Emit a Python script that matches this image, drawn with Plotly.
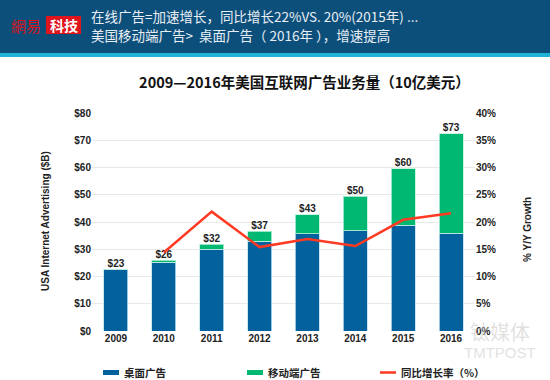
import plotly.graph_objects as go

years = ["2009", "2010", "2011", "2012", "2013", "2014", "2015", "2016"]
desktop = [22.7, 25.3, 30.0, 33.0, 35.7, 36.8, 38.8, 35.9]
mobile = [0.0, 0.6, 1.8, 3.6, 7.0, 12.7, 20.8, 36.5]
total_labels = ["$23", "$26", "$32", "$37", "$43", "$50", "$60", "$73"]
growth_years = ["2010", "2011", "2012", "2013", "2014", "2015", "2016"]
growth = [14.4, 21.9, 15.4, 16.9, 15.6, 20.4, 21.6]

left_ticks = [0, 10, 20, 30, 40, 50, 60, 70, 80]
left_ticktext = ["$0", "$10", "$20", "$30", "$40", "$50", "$60", "$70", "$80"]
right_ticks = [0, 5, 10, 15, 20, 25, 30, 35, 40]
right_ticktext = ["0%", "5%", "10%", "15%", "20%", "25%", "30%", "35%", "40%"]

series_names = ["桌面广告", "移动端广告", "同比增长率（%）"]

W, H = 550, 380
ML, MR, MT, MB = 92, 75, 113, 49
PW, PH = W - ML - MR, H - MT - MB

def px(x):
    return (x - ML) / PW

def py(y):
    return (H - MB - y) / PH

FONT = "Noto Sans CJK SC, Liberation Sans, Arial"
LAT = "Liberation Sans, Arial"
BLUE = "#03619e"
GREEN = "#00b872"
RED = "#ff3a22"

totals = [d + m for d, m in zip(desktop, mobile)]

fig = go.Figure()
fig.add_trace(go.Bar(x=years, y=desktop, name=series_names[0], marker=dict(color=BLUE, line=dict(color="rgba(190,225,240,0.8)", width=1)), width=0.5))
fig.add_trace(go.Bar(x=years, y=mobile, name=series_names[1], marker=dict(color=GREEN, line=dict(color="rgba(190,240,220,0.8)", width=1)), width=0.5))
fig.add_trace(go.Scatter(x=years, y=totals, text=total_labels, mode="text", textposition="top center",
                         textfont=dict(size=10, color="#222", family=LAT, weight="bold"),
                         showlegend=False, hoverinfo="skip", cliponaxis=False))
fig.add_trace(go.Scatter(x=growth_years, y=growth, name=series_names[2], mode="lines", yaxis="y2",
                         line=dict(color=RED, width=2.5)))

tickfont = dict(size=10, family=LAT, weight="bold", color="#222")

LY = 372.5

shapes = [
    dict(type="rect", xref="paper", yref="paper", x0=px(0), x1=px(W), y0=py(53), y1=py(0),
         fillcolor="#0d4f7b", line=dict(width=0), layer="below"),
    dict(type="rect", xref="paper", yref="paper", x0=px(0), x1=px(W), y0=py(57), y1=py(53),
         fillcolor="#1fb5d8", line=dict(width=0), layer="below"),
    dict(type="rect", xref="paper", yref="paper", x0=px(46), x1=px(81), y0=py(34), y1=py(16),
         fillcolor="#e0141c", line=dict(width=0), layer="below"),
    # legend swatches
    dict(type="rect", xref="paper", yref="paper", x0=px(103), x1=px(119), y0=py(LY + 2.5), y1=py(LY - 2.5),
         fillcolor=BLUE, line=dict(width=0)),
    dict(type="rect", xref="paper", yref="paper", x0=px(247), x1=px(263), y0=py(LY + 2.5), y1=py(LY - 2.5),
         fillcolor=GREEN, line=dict(width=0)),
    dict(type="line", xref="paper", yref="paper", x0=px(380), x1=px(396), y0=py(LY), y1=py(LY),
         line=dict(color=RED, width=2.5)),
]

def ann(text, x, y, size, color, family=FONT, weight="normal", xanchor="left", angle=0):
    return dict(text=text, x=px(x), y=py(y), xref="paper", yref="paper", xanchor=xanchor, yanchor="middle",
                showarrow=False, textangle=angle, font=dict(size=size, color=color, family=family, weight=weight))

annotations = [
    ann("網易", 9, 25, 15, "#d8141c", family="Noto Sans CJK TC"),
    ann("科技", 63.5, 25, 14, "white", family="Noto Sans CJK TC", weight="bold", xanchor="center"),
    ann("在线广告=加速增长，同比增长22%VS. 20%(2015年) ...", 89, 16, 13.5, "#e8eef4"),
    ann("美国移动端广告>  桌面广告（ 2016年 ），增速提高", 89, 35, 13.5, "#e8eef4"),
    ann("钛媒体", 500, 331, 20, "rgba(200,200,200,0.55)", xanchor="center"),
    ann("TMTPOST", 500, 352, 15, "rgba(200,200,200,0.55)", family=LAT, xanchor="center"),
    ann("USA Internet Advertising ($B)", 45, 221, 10, "#222", family=LAT, weight="bold", xanchor="center", angle=-90),
    ann("% Y/Y Growth", 527, 230, 10, "#222", family=LAT, weight="bold", xanchor="center", angle=-90),
    ann(series_names[0], 122, LY, 10.5, "#222", weight="bold"),
    ann(series_names[1], 266, LY, 10.5, "#222", weight="bold"),
    ann(series_names[2], 399, LY, 10.5, "#222", weight="bold"),
]

fig.update_layout(
    width=W, height=H,
    margin=dict(l=ML, r=MR, t=MT, b=MB),
    barmode="stack",
    paper_bgcolor="white", plot_bgcolor="white",
    font=dict(family=FONT, color="#222"),
    showlegend=False,
    xaxis=dict(type="category", range=[-0.5, 7.5], showgrid=False, showline=False, ticks="", tickfont=tickfont),
    yaxis=dict(range=[0, 80], tickvals=left_ticks, ticktext=left_ticktext, showgrid=True, gridcolor="#e8e8e8",
               gridwidth=1, zeroline=False, showline=False, tickfont=tickfont),
    yaxis2=dict(range=[0, 40], overlaying="y", side="right", tickvals=right_ticks, ticktext=right_ticktext,
                showgrid=False, zeroline=False, showline=False, tickfont=tickfont),
    title=dict(text="2009—2016年美国互联网广告业务量（10亿美元）", x=px(304), xanchor="center",
               y=1 - 83 / H, yanchor="middle",
               font=dict(size=14.5, family=FONT, weight="bold", color="#111")),
    shapes=shapes,
    annotations=annotations,
)

fig.write_html("out.html", config={"displayModeBar": False},
               post_script="document.body.style.margin='0';document.body.style.overflow='hidden';")
